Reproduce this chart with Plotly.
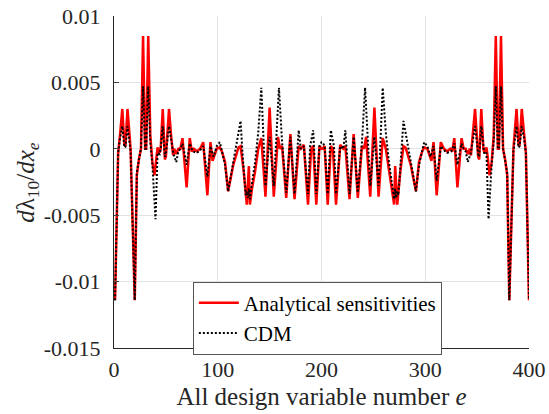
import plotly.graph_objects as go

# ---- data (design variable index, sensitivity) ----
ana_x = [1, 4, 6, 8, 10, 11, 13, 15, 16, 20, 22, 24, 26, 28, 30, 31, 33, 35, 37, 39,
         41, 42, 44, 45, 47, 49, 50, 53, 55, 57, 58, 60, 62, 64, 66, 70, 73, 75, 77, 80,
         83, 86, 90, 93, 95, 99, 102, 104, 107, 110, 115, 120, 122, 125, 128, 130, 131, 133, 136, 139,
         142, 146, 150, 154, 158, 160, 162, 166, 170, 174, 178, 180, 183, 187, 190, 192, 195, 198, 200,
         201, 203, 206, 209, 211, 214, 218, 221, 223, 227, 231, 235, 239, 241, 243, 247, 251, 255, 259, 262,
         265, 268, 270, 271, 273, 276, 279, 281, 286, 291, 294, 297, 299, 302, 306, 308, 311, 315, 318, 321,
         324, 326, 328, 331, 335, 337, 339, 341, 343, 344, 346, 348, 351, 352, 354, 356, 357, 359, 360, 362,
         364, 366, 368, 370, 371, 373, 375, 377, 379, 381, 385, 386, 388, 390, 391, 393, 395, 397, 400]
ana_y = [-0.0114, -0.0003, 0.0012, 0.0030, 0.0003, 0.0002, 0.0030, 0.0010, 0.0000, -0.0114,
         -0.0020, -0.0008, 0.0000, 0.0085, 0.0000, 0.0000, 0.0085, 0.0010, -0.0010, -0.0020,
         -0.0005, 0.0001, -0.0003, 0.0000, 0.0030, -0.0008, -0.0006, 0.0030, 0.0010, -0.0005,
         0.0000, -0.0004, 0.0000, 0.0000, 0.0008, -0.0029, 0.0008, -0.0002, 0.0000, -0.0002,
         0.0000, 0.0005, -0.0035, 0.0005, -0.0009, 0.0000, 0.0001, -0.0002, -0.0010, -0.0032,
         -0.0012, 0.0001, 0.0002, -0.0017, -0.0042, -0.0013, -0.0042, -0.0030, -0.0017, 0.0000,
         0.0008, -0.0036, 0.0031, -0.0036, 0.0009, 0.0000, 0.0002, -0.0037, 0.0011, -0.0038,
         0.0002, 0.0000, 0.0003, -0.0042, 0.0000, 0.0002, -0.0042, 0.0002, 0.0000,
         0.0000, 0.0002, -0.0042, 0.0002, 0.0000, -0.0042, 0.0003, 0.0000, 0.0002, -0.0038,
         0.0011, -0.0037, 0.0002, 0.0000, 0.0009, -0.0036, 0.0031, -0.0036, 0.0008, 0.0000,
         -0.0017, -0.0030, -0.0042, -0.0013, -0.0042, -0.0017, 0.0002, 0.0001, -0.0012, -0.0032,
         -0.0010, -0.0002, 0.0001, 0.0000, -0.0009, 0.0005, -0.0035, 0.0005, 0.0000, -0.0002,
         0.0000, -0.0002, 0.0008, -0.0029, 0.0008, 0.0000, 0.0000, -0.0004, 0.0000, -0.0005,
         0.0010, 0.0030, -0.0006, -0.0008, 0.0030, 0.0000, -0.0003, 0.0001, -0.0005, -0.0020,
         -0.0010, 0.0010, 0.0085, 0.0000, 0.0000, 0.0085, 0.0000, -0.0008, -0.0020, -0.0114,
         0.0000, 0.0010, 0.0030, 0.0002, 0.0003, 0.0030, 0.0012, -0.0003, -0.0114]

cdm_x = [1, 4, 6, 8, 10, 11, 13, 15, 16, 20, 22, 24, 26, 28, 30, 31, 33, 35, 37, 40,
         42, 44, 45, 47, 49, 50, 53, 55, 57, 60, 62, 64, 66, 70, 73, 76, 80, 83, 86, 90,
         93, 96, 99, 102, 104, 107, 110, 115, 119, 122, 124, 126, 127, 128, 129, 130, 131, 133, 136, 139,
         142, 146, 150, 154, 159, 162, 166, 170, 174, 178, 180, 183, 187, 189, 192, 195, 198, 200,
         201, 203, 206, 209, 212, 214, 218, 221, 223, 227, 231, 235, 239, 242, 247, 251, 255, 259, 262, 265,
         268, 270, 271, 272, 273, 274, 275, 277, 279, 282, 286, 291, 294, 297, 299, 302, 305, 308, 311, 315,
         318, 321, 325, 328, 331, 335, 337, 339, 341, 344, 346, 348, 351, 352, 354, 356, 357, 359, 361, 364,
         366, 368, 370, 371, 373, 375, 377, 379, 381, 385, 386, 388, 390, 391, 393, 395, 397, 400]
cdm_y = [-0.0114, -0.0003, 0.0009, 0.0017, 0.0002, 0.0001, 0.0017, 0.0005, -0.0002, -0.0114,
         -0.0018, -0.0008, 0.0000, 0.0047, 0.0000, 0.0000, 0.0047, 0.0005, -0.0012, -0.0053,
         -0.0003, -0.0004, 0.0000, 0.0017, -0.0006, -0.0004, 0.0017, 0.0008, -0.0003, -0.0010,
         -0.0002, 0.0000, 0.0004, -0.0012, 0.0004, -0.0002, -0.0003, -0.0001, 0.0002, -0.0021,
         0.0002, -0.0006, 0.0002, 0.0005, -0.0002, -0.0012, -0.0032, -0.0011, 0.0008, 0.0021,
         -0.0005, -0.0025, -0.0035, -0.0032, -0.0037, -0.0030, -0.0038, -0.0026, -0.0010, 0.0012,
         0.0046, -0.0028, 0.0009, -0.0028, 0.0046, 0.0005, -0.0033, 0.0009, -0.0034, 0.0014,
         0.0000, 0.0002, -0.0034, 0.0002, 0.0014, -0.0034, 0.0002, 0.0005,
         0.0005, 0.0002, -0.0034, 0.0014, 0.0002, -0.0034, 0.0002, 0.0000, 0.0014, -0.0034,
         0.0009, -0.0033, 0.0005, 0.0046, -0.0028, 0.0009, -0.0028, 0.0046, 0.0012, -0.0010,
         -0.0026, -0.0038, -0.0030, -0.0037, -0.0032, -0.0035, -0.0025, -0.0005, 0.0021, 0.0008,
         -0.0011, -0.0032, -0.0012, -0.0002, 0.0005, 0.0002, -0.0006, 0.0002, -0.0024, 0.0002,
         -0.0001, -0.0003, -0.0002, 0.0004, -0.0012, 0.0004, 0.0000, -0.0002, -0.0010, -0.0003,
         0.0008, 0.0017, -0.0004, -0.0006, 0.0017, 0.0000, -0.0004, -0.0003, -0.0053, -0.0012,
         0.0005, 0.0047, 0.0000, 0.0000, 0.0047, 0.0000, -0.0008, -0.0018, -0.0114, -0.0002,
         0.0005, 0.0017, 0.0001, 0.0002, 0.0017, 0.0009, -0.0003, -0.0114]

x_ticks = [0, 100, 200, 300, 400]
y_ticks = [0.01, 0.005, 0, -0.005, -0.01, -0.015]
y_tick_text = ["0.01", "0.005", "0", "-0.005", "-0.01", "-0.015"]

FONT = "Liberation Serif"
TXT = "#262626"

fig = go.Figure()
fig.add_trace(go.Scatter(x=ana_x, y=ana_y, mode="lines", name="Analytical sensitivities",
                         line=dict(color="#ff0000", width=2.5)))
fig.add_trace(go.Scatter(x=cdm_x, y=cdm_y, mode="lines", name="CDM",
                         line=dict(color="#000000", width=2, dash="2px,2px")))

fig.update_layout(
    template="none",
    width=549, height=414,
    margin=dict(l=114, r=20, t=16, b=66),
    paper_bgcolor="white", plot_bgcolor="white",
    font_family=FONT, font_size=22, font_color=TXT,
    showlegend=True,
    legend=dict(x=0.19, y=0.2, xanchor="left", yanchor="top",
                bgcolor="white", bordercolor="#555555", borderwidth=1,
                font=dict(family=FONT, size=21, color="#000000"),
                tracegroupgap=0, itemwidth=40),
    xaxis=dict(range=[0, 400], tickvals=x_ticks, ticks="inside", ticklen=5,
               showline=True, linecolor=TXT, linewidth=1,
               showgrid=True, gridcolor="#e3e3e3", gridwidth=1, zeroline=False,
               tickfont=dict(family=FONT, size=22, color=TXT), ticklabelstandoff=2,
               title=dict(text="All design variable number <i>e</i>",
                          font=dict(family=FONT, size=25, color=TXT), standoff=6)),
    yaxis=dict(range=[-0.015, 0.01], tickvals=y_ticks, ticktext=y_tick_text,
               ticks="inside", ticklen=5,
               showline=True, linecolor=TXT, linewidth=1,
               showgrid=True, gridcolor="#e3e3e3", gridwidth=1, zeroline=False,
               tickfont=dict(family=FONT, size=22, color=TXT), ticklabelstandoff=8),
)
# y-axis title as a rotated annotation so its position can be matched
fig.add_annotation(text="<i>d</i>λ<sub>10</sub>/<i>dx<sub>e</sub></i>",
                   xref="paper", yref="paper", x=-0.21, y=0.5,
                   xanchor="center", yanchor="middle", textangle=-90, showarrow=False,
                   font=dict(family=FONT, size=25, color=TXT))

fig.write_html("out.html")
